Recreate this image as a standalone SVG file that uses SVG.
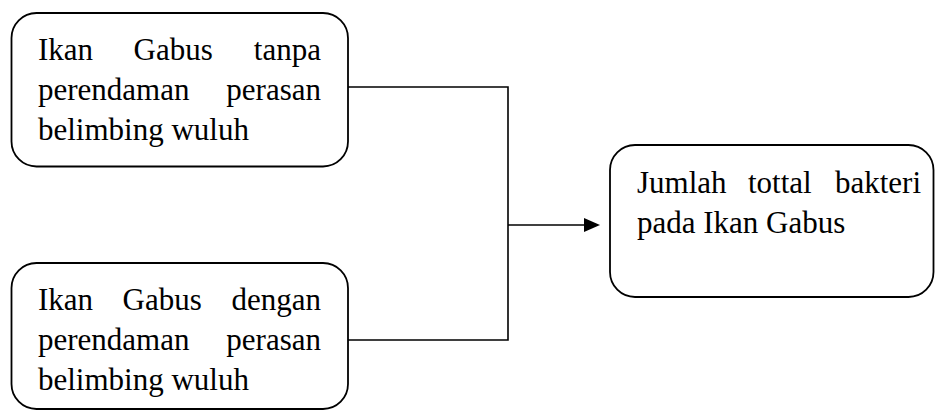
<svg xmlns="http://www.w3.org/2000/svg" width="936" height="411" viewBox="0 0 936 411">
  <style>
    .box { fill: #ffffff; stroke: #000000; stroke-width: 1.8; }
    .t { font-family: 'Liberation Serif', 'Times New Roman', serif; font-size: 31px; fill: #000000; }
    .e { text-anchor: end; }
    .conn { fill: none; stroke: #000000; stroke-width: 1.6; }
    .head { fill: #000000; }
  </style>
  <rect width="936" height="411" fill="#ffffff"/>

  <g id="connectors">
    <polyline class="conn" points="348,87 508,87 508,340 348,340"/>
    <line class="conn" x1="508" y1="225" x2="586" y2="225" stroke-width="1.8"/>
    <path class="head" d="M584,218 L600,225 L584,232 Z"/>
  </g>

  <g id="node-tanpa">
    <rect class="box" x="11.5" y="13" width="336.5" height="153.5" rx="25" ry="25"/>
    <text class="t" x="38" y="60">Ikan</text>
    <text class="t" x="133.5" y="60">Gabus</text>
    <text class="t e" x="321" y="60">tanpa</text>
    <text class="t" x="38" y="100">perendaman</text>
    <text class="t e" x="321" y="100">perasan</text>
    <text class="t" x="38" y="140">belimbing wuluh</text>
  </g>

  <g id="node-dengan">
    <rect class="box" x="11.5" y="263" width="336.5" height="146" rx="25" ry="25"/>
    <text class="t" x="38" y="310">Ikan</text>
    <text class="t" x="122.5" y="310">Gabus</text>
    <text class="t e" x="321" y="310">dengan</text>
    <text class="t" x="38" y="350">perendaman</text>
    <text class="t e" x="321" y="350">perasan</text>
    <text class="t" x="38" y="390">belimbing wuluh</text>
  </g>

  <g id="node-jumlah">
    <rect class="box" x="610" y="145" width="323.5" height="152" rx="25" ry="25"/>
    <text class="t" x="637" y="193">Jumlah</text>
    <text class="t" x="748" y="193">tottal</text>
    <text class="t e" x="921" y="193">bakteri</text>
    <text class="t" x="637" y="233">pada Ikan Gabus</text>
  </g>
</svg>
